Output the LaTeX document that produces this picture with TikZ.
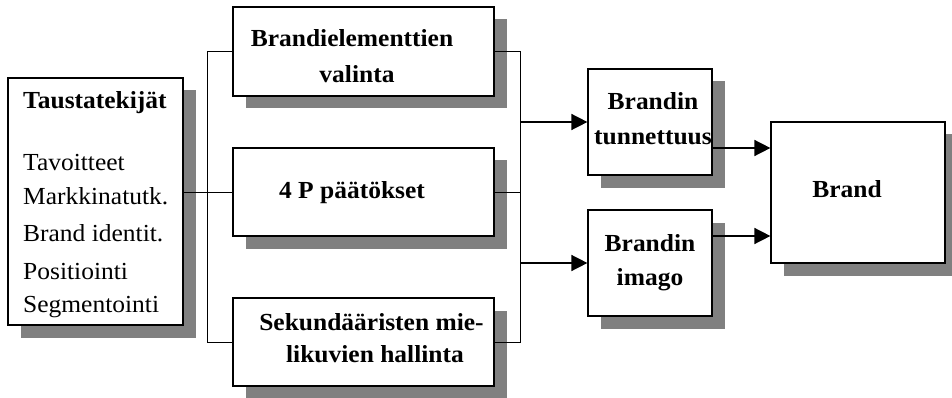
\documentclass[tikz,border=0pt]{standalone}
\usepackage{fontspec}
\setmainfont{Liberation Serif}[FakeStretch=1.04]
\usetikzlibrary{arrows.meta,shadows}

\tikzset{
  box/.style={draw, line width=1.2pt, fill=white, inner sep=0pt,
    drop shadow={shadow xshift=12.5pt, shadow yshift=-12.5pt, fill=black!50, opacity=1}},
  lbl/.style={font=\fontsize{24.5}{28}\selectfont\bfseries, anchor=base, inner sep=0pt},
  txt/.style={font=\fontsize{24.5}{28}\selectfont, anchor=base west, inner sep=0pt},
  link/.style={line width=1pt},
  arr/.style={line width=1.5pt, -{Triangle[length=16pt,width=16pt]}}
}

\begin{document}
\begin{tikzpicture}[x=1pt, y=-1pt]
\useasboundingbox (0,0) rectangle (952,398);

% boxes
\node[box, minimum width=175pt, minimum height=247pt] (T)  at (95.5,201.5) {};
\node[box, minimum width=261pt, minimum height=89pt]  (B1) at (363.5,51.5) {};
\node[box, minimum width=261pt, minimum height=88pt]  (B2) at (363.5,192) {};
\node[box, minimum width=261pt, minimum height=88pt]  (B3) at (363.5,342) {};
\node[box, minimum width=124pt, minimum height=106pt] (TU) at (650,122) {};
\node[box, minimum width=124pt, minimum height=106pt] (IM) at (650,263) {};
\node[box, minimum width=174pt, minimum height=141pt] (BR) at (858,192.5) {};

% texts
\node[txt, font=\fontsize{24.5}{28}\selectfont\bfseries] (t0) at (23,109) {Taustatekijät};
\node[txt] (t1) at (23,171) {Tavoitteet};
\node[txt] (t2) at (23,204.5) {Markkinatutk.};
\node[txt] (t3) at (23,241.5) {Brand identit.};
\node[txt] (t4) at (23,279) {Positiointi};
\node[txt] (t5) at (23,312) {Segmentointi};

\node[lbl] (b1a) at (352,47) {Brandielementtien};
\node[lbl] (b1b) at (357,83) {valinta};
\node[lbl] (b2a) at (352,198) {4 P päätökset};
\node[lbl] (b3a) at (371.5,330) {Sekundääristen mie-};
\node[lbl] (b3b) at (375,362) {likuvien hallinta};
\node[lbl] (tua) at (653,110) {Brandin};
\node[lbl] (tub) at (653,145) {tunnettuus};
\node[lbl] (ima) at (650,251) {Brandin};
\node[lbl] (imb) at (650,285) {imago};
\node[lbl] (bra) at (847,197) {Brand};

% left bus
\draw[link] (T.east |- B2.west) -- (B2.west);
\draw[link] (B1.west) -- ++(-25,0) |- (B3.west);

% right bus
\coordinate (busR) at (520,0);
\draw[link] (B1.east) -- (B1.east -| busR) |- (B3.east);
\draw[link] (B2.east) -- (B2.east -| busR);

% arrows
\draw[arr] (TU.west -| busR) -- (TU.west);
\draw[arr] (IM.west -| busR) -- (IM.west);
\draw[arr] ([yshift=-26pt]TU.east) -- ([yshift=-26pt]TU.east -| BR.west);
\draw[arr] ([yshift=27pt]IM.east) -- ([yshift=27pt]IM.east -| BR.west);
\end{tikzpicture}
\end{document}
